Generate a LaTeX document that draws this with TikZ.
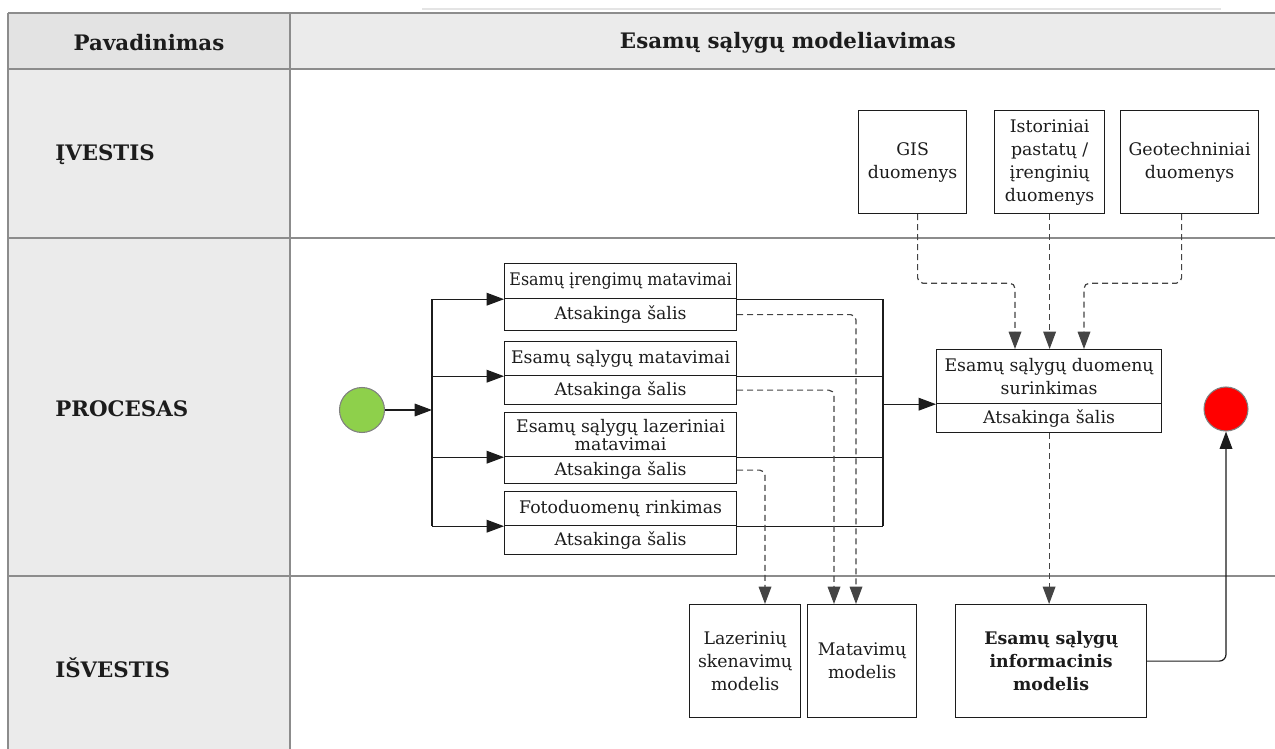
\documentclass[tikz,border=0pt]{standalone}
\usepackage{graphicx}
\usepackage{fontspec}
\setmainfont{DejaVu Serif}
\usetikzlibrary{arrows.meta}

\definecolor{gridline}{HTML}{8C8C8C}
\definecolor{faintline}{HTML}{E4E4E4}
\definecolor{cellgray}{HTML}{EBEBEB}
\definecolor{headgray}{HTML}{E3E3E3}
\definecolor{ink}{HTML}{1C1C1C}
\definecolor{dashink}{HTML}{444444}
\definecolor{startgreen}{HTML}{8ED04B}
\definecolor{endred}{HTML}{FF0000}

\newcommand\bodyfont{\fontsize{13}{17.25}\selectfont}

% box given by its corners (in pixel units): [options]{name}{x1}{y1}{x2}{y2}{text}
\newcommand\cellbox[7][]{%
  \node[box,minimum width={(#5-#3)*0.75pt},minimum height={(#6-#4)*0.75pt},#1] (#2) at (#3,#4) {#7};}

\begin{document}
\begin{tikzpicture}[x=0.75pt,y=-0.75pt,
  grid/.style={draw=gridline,line width=1.1pt},
  box/.style={draw=ink,line width=0.9pt,inner sep=0pt,align=center,font=\bodyfont,text=ink,anchor=north west},
  flow/.style={draw=ink,line width=0.9pt,-{Triangle[length=13pt,width=9.5pt]}},
  plain/.style={draw=ink,line width=0.9pt},
  dataflow/.style={flow,draw=dashink,dash pattern=on 4.5pt off 3pt,rounded corners=4pt},
  headlabel/.style={font=\fontsize{16}{19}\selectfont\bfseries,text=ink,inner sep=0pt},
  rowlabel/.style={headlabel,anchor=west},
  state/.style={circle,draw=gray,line width=0.8pt,inner sep=0pt}]

\useasboundingbox (0,0) rectangle (1275,749);

% table background and rules
\fill[headgray] (8,13) rectangle (290,69);
\fill[cellgray] (290,13) rectangle (1275,69);
\fill[cellgray] (8,69) rectangle (290,749);
\draw[faintline,line width=0.8pt] (422,9) -- (1221,9);
\foreach \yy in {13,69,238,576} \draw[grid] (8,\yy) -- (1275,\yy);
\draw[grid] (8,13) -- (8,749);
\draw[grid] (290,13) -- (290,749);

% headings
\node[headlabel] (hname) at (149,43) {Pavadinimas};
\node[headlabel] (htitle) at (788,43) {Esamų sąlygų modeliavimas};
\node[rowlabel] (rin) at (55,155) {ĮVESTIS};
\node[rowlabel] (rproc) at (55,409) {PROCESAS};
\node[rowlabel] (rout) at (55,668) {IŠVESTIS};

% inputs
\cellbox{gis}{858}{110}{966}{213}{GIS\\duomenys}
\cellbox{ist}{994}{110}{1104}{213}{Istoriniai\\pastatų /\\įrenginių\\duomenys}
\cellbox{geo}{1120}{110}{1258}{213}{Geotechniniai\\duomenys}

% process steps
\cellbox{p1t}{504}{263}{736}{298}{\scalebox{0.92}[1]{Esamų įrengimų matavimai}}
\cellbox{p1b}{504}{298}{736}{330}{Atsakinga šalis}
\cellbox{p2t}{504}{341}{736}{375}{Esamų sąlygų matavimai}
\cellbox{p2b}{504}{375}{736}{404}{Atsakinga šalis}
\cellbox[font=\fontsize{13}{13.5}\selectfont]{p3t}{504}{412}{736}{456}{Esamų sąlygų lazeriniai\\matavimai}
\cellbox{p3b}{504}{456}{736}{483}{Atsakinga šalis}
\cellbox{p4t}{504}{491}{736}{525}{Fotoduomenų rinkimas}
\cellbox{p4b}{504}{525}{736}{554}{Atsakinga šalis}

\cellbox{ct}{936}{349}{1161}{403}{Esamų sąlygų duomenų\\surinkimas}
\cellbox{cb}{936}{403}{1161}{432}{Atsakinga šalis}

% outputs
\cellbox{laz}{689}{604}{800}{717}{Lazerinių\\skenavimų\\modelis}
\cellbox{mat}{807}{604}{916}{717}{Matavimų\\modelis}
\cellbox[font=\bodyfont\bfseries]{info}{955}{604}{1146}{717}{Esamų sąlygų\\informacinis\\modelis}

% start and end events
\node[state,fill=startgreen,minimum size=33.75pt] (start) at (362,410) {};
\node[state,fill=endred,minimum size=33pt] (end) at (1226,409) {};

% control flow: fork bar, branches, join bar
\coordinate (fork) at (432,410);
\draw[flow] (start) -- (fork);
\draw[plain] (fork |- p1t.south west) -- (fork |- p4t.south west);
\foreach \b in {p1t,p2t,p3t,p4t} \draw[flow] (fork |- \b.south west) -- (\b.south west);
\path (ct.south west) ++(-53,0) coordinate (join);
\draw[plain] (join |- p1t.south east) -- (join |- p4t.south east);
\foreach \b in {p1t,p2t,p3t,p4t} \draw[plain] (\b.south east) -- (join |- \b.south east);
\draw[flow] (join) -- (ct.south west);
\draw[flow,rounded corners=5pt] (info.east) -| (end.south);

% data flow
\draw[dataflow] (p1b.east) -| ([xshift=36.75pt]mat.north west);
\draw[dataflow] (p2b.east) -| ([xshift=20.25pt]mat.north west);
\draw[dataflow] (p3b.east) -| ([xshift=57pt]laz.north west);
\draw[dataflow] ([xshift=3.75pt]gis.south) -- ++(0,69) -| ([xshift=59.25pt]ct.north west);
\draw[dataflow] (ist.south) -- (ist.south |- ct.north);
\draw[dataflow] ([xshift=-6pt]geo.south) -- ++(0,69) -| ([xshift=111pt]ct.north west);
\draw[dataflow] (cb.south) -- (cb.south |- info.north);

\end{tikzpicture}
\end{document}
